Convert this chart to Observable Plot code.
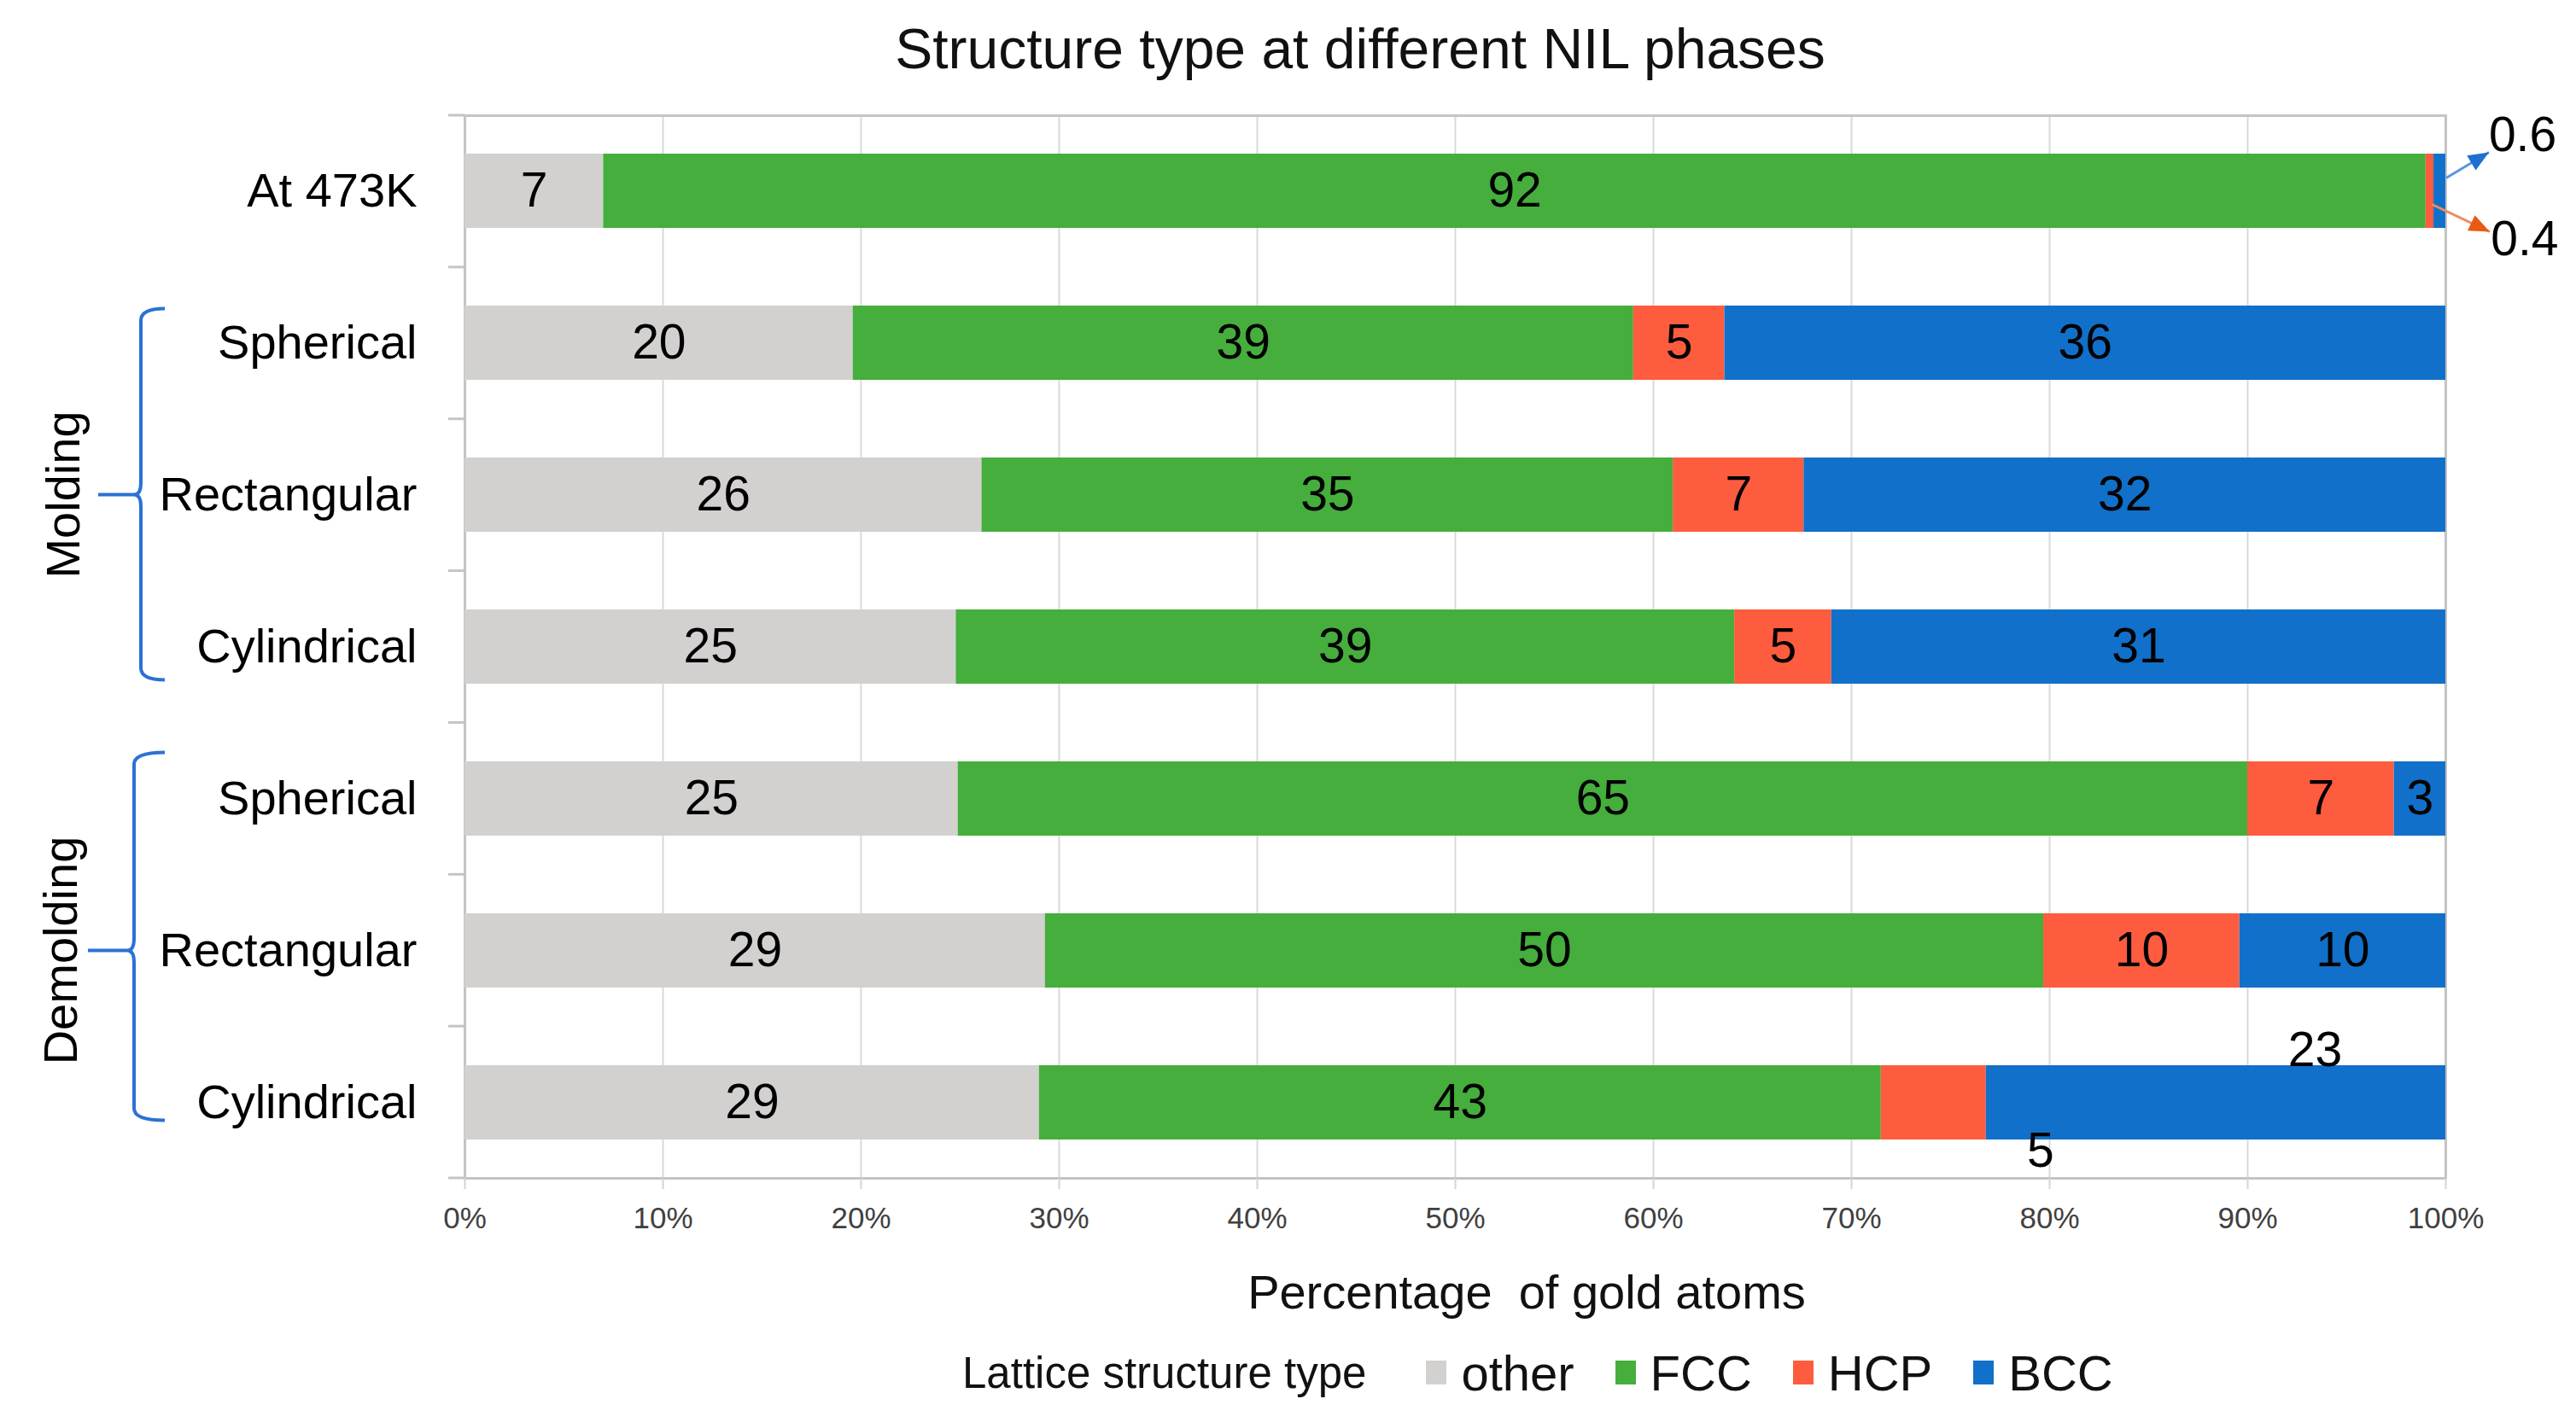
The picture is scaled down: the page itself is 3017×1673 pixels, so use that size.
<!DOCTYPE html>
<html>
<head>
<meta charset="utf-8">
<script src="https://cdn.jsdelivr.net/npm/d3@7"></script>
<script src="https://cdn.jsdelivr.net/npm/@observablehq/plot@0.6"></script>
<style>
  body { margin: 0; background: #fff; font-family: "Liberation Sans", Arial, sans-serif; }
  #wrap { position: relative; width: 3017px; height: 1673px; overflow: hidden; background: #fff; }
  #title { position: absolute; left: 593px; top: 24px; width: 2000px; text-align: center;
           font-size: 66px; line-height: 66px; color: #111; white-space: nowrap; }
  #chart { position: absolute; left: 0; top: 100px; }
  #xlabel { position: absolute; left: 788px; top: 1486px; width: 2000px; text-align: center;
            font-size: 56px; line-height: 56px; color: #111; white-space: pre; }
  #legend { position: absolute; left: 1127px; top: 1578px; height: 60px; display: flex; align-items: center;
            white-space: nowrap; color: #111; }
  #legend .ttl { font-size: 51px; margin-right: 70px; }
  #legend .sw { width: 24px; height: 28px; margin-right: 17px; }
  #legend .lb { font-size: 58px; margin-right: 48px; }
</style>
</head>
<body>
<div id="wrap">
  <div id="title">Structure type at different NIL phases</div>
  <div id="chart"></div>
  <div id="xlabel">Percentage  of gold atoms</div>
  <div id="legend"></div>
</div>
<script>
// ---- data ----
const categories = ["At 473K", "Spherical", "Rectangular", "Cylindrical", "Spherical", "Rectangular", "Cylindrical"];
const phases     = ["",        "Molding",   "Molding",     "Molding",     "Demolding", "Demolding",   "Demolding"];
const types  = ["other", "FCC", "HCP", "BCC"];
const colors = ["#d3d0d0", "#45ae3c", "#fe5c3e", "#1170c9"];
const otherVals = [7,    19.6, 26.1, 24.8, 24.9, 29.3, 29.0];
const fccVals   = [92,   39.4, 34.9, 39.3, 65.1, 50.4, 42.5];
const hcpVals   = [0.4,  4.6,  6.6,  4.9,  7.4,  9.9,  5.3];
const bccVals   = [0.6,  36.4, 32.4, 31.0, 2.6,  10.4, 23.2];
const xTicks = [0, 10, 20, 30, 40, 50, 60, 70, 80, 90, 100];
const legendTitle = "Lattice structure type";

// ---- table ----
const series = {other: otherVals, FCC: fccVals, HCP: hcpVals, BCC: bccVals};
const keys = categories.map((c, i) => i + "|" + c);
const data = [];
categories.forEach((c, i) => types.forEach(t => data.push({row: i, key: keys[i], type: t, value: series[t][i]})));
const fmt = v => v < 1 ? String(v) : String(Math.round(v));
const outside = new Set(["0|HCP", "0|BCC", "6|HCP", "6|BCC"]);
const only = (row, type) => d => (d.row === row && d.type === type) ? fmt(d.value) : "";

const stackOpts = {x: "value", y: "key", z: "type", order: types};
const txt = {fontSize: 57, fill: "#000"};

const plot = Plot.plot({
  width: 3017,
  height: 1380,
  marginTop: 35,
  marginBottom: 100,
  marginLeft: 544,
  marginRight: 153,
  style: {fontFamily: "'Liberation Sans', Arial, sans-serif", background: "transparent", overflow: "visible"},
  x: {domain: [0, 100]},
  y: {domain: keys, paddingInner: 0.51, paddingOuter: 0.245},
  color: {domain: types, range: colors},
  marks: [
    Plot.gridX({ticks: xTicks, stroke: "#d9d9d9", strokeOpacity: 1, strokeWidth: 2}),
    Plot.frame({stroke: "#c4c4c4", strokeWidth: 3}),
    Plot.axisX({ticks: xTicks, tickSize: 13, tickPadding: 21, stroke: "#d4d4d4", strokeWidth: 2,
                color: "#404040", fontSize: 35, tickFormat: d => d + "%", label: null}),
    Plot.axisY({tickSize: 0, tickPadding: 56, fontSize: 56, color: "#000",
                tickFormat: k => k.split("|")[1], label: null}),
    Plot.barX(data, {...stackOpts, fill: "type"}),
    Plot.text(data, Plot.stackX({...stackOpts, ...txt,
      text: d => outside.has(d.row + "|" + d.type) ? "" : fmt(d.value)})),
    Plot.text(data, Plot.stackX({...stackOpts, ...txt, text: only(0, "BCC"), dx: 97, dy: -65})),
    Plot.text(data, Plot.stackX({...stackOpts, ...txt, text: only(0, "HCP"), dx: 111, dy: 57})),
    Plot.text(data, Plot.stackX({...stackOpts, ...txt, text: only(6, "HCP"), dx: 125, dy: 57})),
    Plot.text(data, Plot.stackX({...stackOpts, ...txt, text: only(6, "BCC"), dx: 116, dy: -61}))
  ]
});
document.getElementById("chart").appendChild(plot);

// ---- decorations using the plot's scales ----
const xs = plot.scale("x"), ys = plot.scale("y");
const svg = d3.select(plot);
const [r0, r1] = ys.range;
const step = (r1 - r0) / keys.length;
const x0 = xs.apply(0), x100 = xs.apply(100);

// band-boundary ticks on the left
const g = svg.append("g");
d3.range(keys.length + 1).forEach(k => {
  g.append("line").attr("x1", x0 - 19).attr("x2", x0).attr("y1", r0 + k * step).attr("y2", r0 + k * step)
    .attr("stroke", "#c4c4c4").attr("stroke-width", 3);
});

// arrows to the 0.6 / 0.4 labels
const yc0 = ys.apply(keys[0]) + ys.bandwidth / 2;
function arrow(xa, ya, xb, yb, lineColor, headColor) {
  g.append("line").attr("x1", xa).attr("y1", ya).attr("x2", xb).attr("y2", yb)
    .attr("stroke", lineColor).attr("stroke-width", 3);
  const ang = Math.atan2(yb - ya, xb - xa), L = 24, W = 10;
  const bx = xb - L * Math.cos(ang), by = yb - L * Math.sin(ang);
  const px = -Math.sin(ang) * W, py = Math.cos(ang) * W;
  g.append("path").attr("d", `M${xb},${yb}L${bx + px},${by + py}L${bx - px},${by - py}Z`).attr("fill", headColor);
}
const hcpMid = xs.apply(100 - bccVals[0] - hcpVals[0] / 2);
arrow(x100 + 1, yc0 - 15, x100 + 51, yc0 - 45, "#5a95e0", "#1f6fd0");
arrow(hcpMid + 3, yc0 + 16, x100 + 52, yc0 + 48, "#f08a60", "#e85a12");

// group braces and labels
const groups = [
  {name: "Molding",   rows: [1, 2, 3], vx: 165, tipX: 115, endX: 193, topOff: -40, botOff: 39, labelX: 78},
  {name: "Demolding", rows: [4, 5, 6], vx: 157, tipX: 103, endX: 193, topOff: -54, botOff: 21, labelX: 75}
];
const center = i => ys.apply(keys[i]) + ys.bandwidth / 2;
groups.forEach(gr => {
  const top = center(gr.rows[0]) + gr.topOff;
  const bot = center(gr.rows[2]) + gr.botOff;
  const mid = center(gr.rows[1]);
  const v = gr.vx, r = 14;
  const d = `M${gr.endX},${top} Q${v},${top} ${v},${top + r} L${v},${mid - r} Q${v},${mid} ${v - 8},${mid} L${gr.tipX},${mid}` +
            ` M${v - 8},${mid} Q${v},${mid} ${v},${mid + r} L${v},${bot - r} Q${v},${bot} ${gr.endX},${bot}`;
  g.append("path").attr("d", d).attr("fill", "none").attr("stroke", "#2a72d4").attr("stroke-width", 4);
  g.append("text").attr("transform", `translate(${gr.labelX},${mid}) rotate(-90)`)
    .attr("text-anchor", "middle").attr("dy", "0.26em").attr("font-size", 56).attr("fill", "#000")
    .text(gr.name);
});

// ---- legend ----
const leg = d3.select("#legend");
leg.append("span").attr("class", "ttl").text(legendTitle);
types.forEach((t, i) => {
  leg.append("span").attr("class", "sw").style("background", colors[i]);
  leg.append("span").attr("class", "lb").text(t);
});
</script>
</body>
</html>
